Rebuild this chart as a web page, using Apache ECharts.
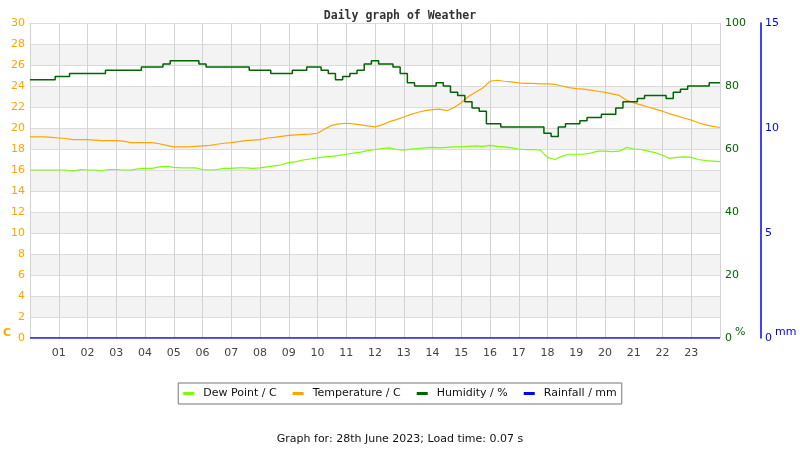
<!DOCTYPE html>
<html>
<head>
<meta charset="utf-8">
<script src="https://cdn.jsdelivr.net/npm/echarts@6/dist/echarts.min.js"></script>
<style>html,body{margin:0;padding:0;background:#fff}#c{width:800px;height:450px}</style>
</head>
<body>
<div id="c"></div>
<script>
// Hours of the day sampled every 15 minutes (0 .. 24)
var hours = [];
for (var i = 0; i <= 96; i++) hours.push(i / 4);

var hourLabels = ['01','02','03','04','05','06','07','08','09','10','11','12','13','14','15','16','17','18','19','20','21','22','23'];

var dewPoint = [
16.0,16.0,16.0,16.0,16.0,16.0,15.9,16.05,16.0,16.0,15.95,16.05,16.05,16.0,16.0,16.1,
16.15,16.15,16.3,16.35,16.25,16.2,16.2,16.2,16.05,16.0,16.05,16.15,16.15,16.2,16.2,16.15,
16.2,16.3,16.4,16.5,16.7,16.8,16.95,17.05,17.15,17.25,17.3,17.4,17.5,17.6,17.7,17.85,
17.95,18.05,18.1,17.95,17.9,18.0,18.05,18.1,18.15,18.1,18.15,18.2,18.2,18.25,18.3,18.25,
18.35,18.25,18.2,18.1,18.0,17.95,17.95,17.9,17.2,17.0,17.3,17.5,17.5,17.5,17.6,17.8,
17.8,17.75,17.8,18.15,18.0,17.95,17.8,17.65,17.4,17.1,17.2,17.25,17.2,17.0,16.9,16.85,
16.8];

var temperature = [
19.15,19.15,19.15,19.1,19.05,19.0,18.9,18.9,18.9,18.85,18.8,18.8,18.8,18.75,18.6,18.6,
18.6,18.6,18.5,18.35,18.2,18.2,18.2,18.25,18.3,18.35,18.45,18.55,18.6,18.7,18.8,18.85,
18.9,19.05,19.1,19.2,19.3,19.35,19.4,19.42,19.5,19.9,20.25,20.4,20.45,20.4,20.3,20.2,
20.1,20.3,20.6,20.8,21.05,21.3,21.5,21.65,21.75,21.8,21.65,21.95,22.4,23.0,23.4,23.8,
24.45,24.55,24.45,24.4,24.3,24.25,24.25,24.2,24.2,24.15,24.0,23.85,23.75,23.7,23.6,23.5,
23.4,23.25,23.1,22.65,22.4,22.2,22.0,21.8,21.6,21.35,21.15,20.95,20.75,20.5,20.3,20.15,
20.05];

var humidity = [
82,82,82,82,83,83,84,84,84,84,84,85,85,85,85,85,
86,86,86,87,88,88,88,88,87,86,86,86,86,86,86,85,
85,85,84,84,84,85,85,86,86,85,84,82,83,84,85,87,
88,87,87,86,84,81,80,80,80,81,80,78,77,75,73,72,
68,68,67,67,67,67,67,67,65,64,67,68,68,69,70,70,
71,71,73,75,75,76,77,77,77,76,78,79,80,80,80,81,
81];

var rainHours = [0, 24];
var rainfall = [0, 0];

function pairs(xs, ys) { return xs.map(function (x, k) { return [x, ys[k]]; }); }

var chart = echarts.init(document.getElementById('c'), null, {renderer: 'canvas'});
var baseFont = 'DejaVu Sans';
chart.setOption({
  animation: false,
  backgroundColor: '#fff',
  title: [{
    text: 'Daily graph of Weather',
    left: 'center', top: 5,
    textStyle: {fontFamily: 'DejaVu Sans Mono', fontWeight: 'bold', fontSize: 11.5, color: '#333'}
  }, {
    text: 'Graph for: 28th June 2023; Load time: 0.07 s',
    left: 'center', top: 429,
    textStyle: {fontFamily: baseFont, fontWeight: 'normal', fontSize: 11, color: '#111'}
  }],
  legend: {
    data: ['Dew Point / C', 'Temperature / C', 'Humidity / %', 'Rainfall / mm'],
    left: 'center', top: 383,
    padding: [5, 5, 5, 5],
    borderColor: '#777', borderWidth: 1,
    itemWidth: 11, itemHeight: 3, itemGap: 16,
    icon: 'rect',
    textStyle: {fontFamily: baseFont, fontSize: 11, color: '#111', padding: [0, 0, 0, 4]}
  },
  grid: {left: 30, right: 80, top: 23, bottom: 112, containLabel: false},
  xAxis: {
    type: 'value', min: 0, max: 24, interval: 1,
    axisLine: {show: false}, axisTick: {show: false},
    axisLabel: {
      fontFamily: baseFont, fontSize: 11, color: '#444', margin: 10,
      formatter: function (v) { return (v > 0 && v < 24) ? hourLabels[v - 1] : ''; }
    },
    splitLine: {show: true, lineStyle: {color: '#d3d3d3', width: 1}}
  },
  yAxis: [{
    type: 'value', min: 0, max: 30, interval: 2, position: 'left',
    axisLine: {show: false}, axisTick: {show: false},
    axisLabel: {fontFamily: baseFont, fontSize: 11, color: '#FFA500', margin: 5},
    splitLine: {show: true, lineStyle: {color: '#dcdcdc', width: 1}},
    splitArea: {show: true, areaStyle: {color: ['#ffffff', '#f3f3f3']}}
  }, {
    type: 'value', min: 0, max: 100, interval: 20, position: 'right',
    axisLine: {show: false}, axisTick: {show: false},
    axisLabel: {fontFamily: baseFont, fontSize: 11, color: '#006400', margin: 5},
    splitLine: {show: false}
  }, {
    type: 'value', min: 0, max: 15, interval: 5, position: 'right', offset: 41,
    axisLine: {show: true, lineStyle: {color: '#0000FF', width: 1.5}}, axisTick: {show: false},
    axisLabel: {fontFamily: baseFont, fontSize: 11, color: '#0000FF', margin: 4},
    splitLine: {show: false}
  }],
  graphic: [
    {type: 'text', left: 3, top: 328, style: {text: 'C', fill: '#FFA500', font: 'bold 11px DejaVu Sans'}},
    {type: 'text', left: 735, top: 327, style: {text: '%', fill: '#006400', font: '11px DejaVu Sans'}},
    {type: 'text', left: 775, top: 327, style: {text: 'mm', fill: '#0000FF', font: '11px DejaVu Sans'}}
  ],
  series: [{
    name: 'Dew Point / C', type: 'line', yAxisIndex: 0, showSymbol: false, symbol: 'none',
    data: pairs(hours, dewPoint), color: '#7CFC00', lineStyle: {width: 1.2, color: '#7CFC00'}
  }, {
    name: 'Temperature / C', type: 'line', yAxisIndex: 0, showSymbol: false, symbol: 'none',
    data: pairs(hours, temperature), color: '#FFA500', lineStyle: {width: 1.2, color: '#FFA500'}
  }, {
    name: 'Humidity / %', type: 'line', yAxisIndex: 1, showSymbol: false, symbol: 'none', step: 'middle',
    data: pairs(hours, humidity), color: '#006400', lineStyle: {width: 1.5, color: '#006400'}
  }, {
    name: 'Rainfall / mm', type: 'line', yAxisIndex: 2, showSymbol: false, symbol: 'none',
    data: pairs(rainHours, rainfall), color: '#0000FF', lineStyle: {width: 1.5, color: '#0000FF'}
  }]
});
</script>
</body>
</html>
